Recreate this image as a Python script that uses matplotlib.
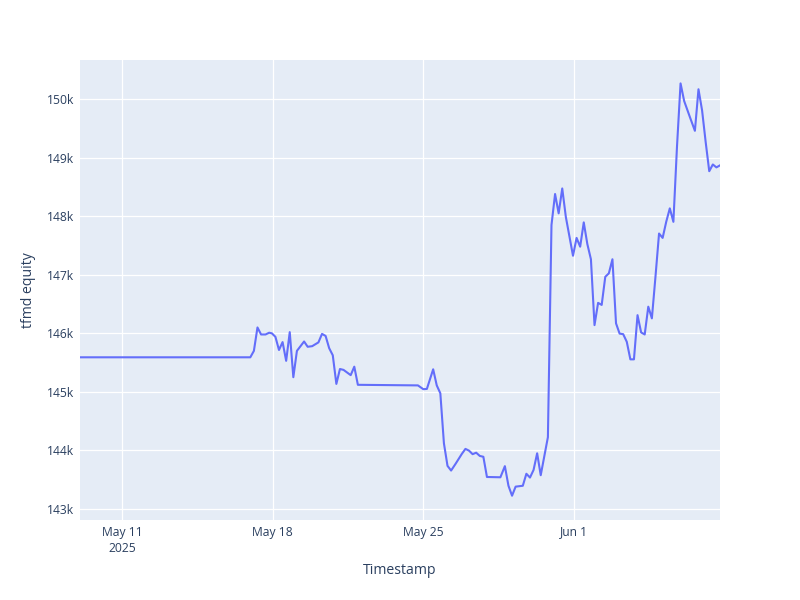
import pandas as pd
import matplotlib.pyplot as plt
from matplotlib.ticker import FuncFormatter

plt.rcParams['font.family'] = ['Open Sans', 'DejaVu Sans']

# equity curve (4-hourly-ish points)
timestamps = [
    "2025-05-09 01:00", "2025-05-16 23:00", "2025-05-17 03:00", "2025-05-17 07:00",
    "2025-05-17 11:00", "2025-05-17 16:00", "2025-05-17 20:00", "2025-05-17 23:00",
    "2025-05-18 03:00", "2025-05-18 07:00", "2025-05-18 11:00", "2025-05-18 15:00",
    "2025-05-18 19:00", "2025-05-18 23:00", "2025-05-19 03:00", "2025-05-19 11:00",
    "2025-05-19 15:00", "2025-05-19 20:00", "2025-05-20 03:00", "2025-05-20 07:00",
    "2025-05-20 11:00", "2025-05-20 15:00", "2025-05-20 19:00", "2025-05-20 23:00",
    "2025-05-21 03:00", "2025-05-21 07:00", "2025-05-21 15:00", "2025-05-21 19:00",
    "2025-05-21 23:00", "2025-05-24 18:00", "2025-05-25 00:00", "2025-05-25 04:00",
    "2025-05-25 11:00", "2025-05-25 15:00", "2025-05-25 19:00", "2025-05-25 23:00",
    "2025-05-26 03:00", "2025-05-26 07:00", "2025-05-26 12:00", "2025-05-26 19:00",
    "2025-05-26 23:00", "2025-05-27 03:00", "2025-05-27 07:00", "2025-05-27 11:00",
    "2025-05-27 15:00", "2025-05-27 19:00", "2025-05-27 23:00", "2025-05-28 14:00",
    "2025-05-28 19:00", "2025-05-28 23:00", "2025-05-29 03:00", "2025-05-29 07:00",
    "2025-05-29 15:00", "2025-05-29 19:00", "2025-05-29 23:00", "2025-05-30 03:00",
    "2025-05-30 07:00", "2025-05-30 11:00", "2025-05-30 19:00", "2025-05-30 23:00",
    "2025-05-31 03:00", "2025-05-31 07:00", "2025-05-31 11:00", "2025-05-31 15:00",
    "2025-05-31 23:00", "2025-06-01 03:00", "2025-06-01 07:00", "2025-06-01 11:00",
    "2025-06-01 15:00", "2025-06-01 19:00", "2025-06-01 23:00", "2025-06-02 03:00",
    "2025-06-02 07:00", "2025-06-02 11:00", "2025-06-02 15:00", "2025-06-02 19:00",
    "2025-06-02 23:00", "2025-06-03 03:00", "2025-06-03 07:00", "2025-06-03 11:00",
    "2025-06-03 15:00", "2025-06-03 19:00", "2025-06-03 23:00", "2025-06-04 03:00",
    "2025-06-04 07:00", "2025-06-04 11:00", "2025-06-04 15:00", "2025-06-04 19:00",
    "2025-06-04 23:00", "2025-06-05 03:00", "2025-06-05 07:00", "2025-06-05 11:00",
    "2025-06-05 15:00", "2025-06-05 19:00", "2025-06-05 23:00", "2025-06-06 03:00",
    "2025-06-06 10:00", "2025-06-06 15:00", "2025-06-06 19:00", "2025-06-06 23:00",
    "2025-06-07 03:00", "2025-06-07 07:00", "2025-06-07 11:00", "2025-06-07 15:00",
    "2025-06-07 19:00",
]
equity = [
    145590, 145590, 145700, 146100,
    145980, 145980, 146010, 146000,
    145940, 145715, 145850, 145530,
    146020, 145250, 145700, 145860,
    145770, 145780, 145845, 145990,
    145955, 145745, 145625, 145135,
    145390, 145375, 145285, 145430,
    145120, 145110, 145045, 145050,
    145385, 145110, 144975, 144120,
    143735, 143655, 143770, 143940,
    144025, 143995, 143935, 143960,
    143905, 143890, 143545, 143540,
    143730, 143395, 143225, 143380,
    143395, 143600, 143535, 143665,
    143950, 143575, 144225, 147850,
    148380, 148050, 148475, 147990,
    147325, 147630, 147480, 147895,
    147525, 147265, 146140, 146520,
    146485, 146965, 147025, 147265,
    146170, 145995, 145985, 145855,
    145555, 145555, 146310, 146015,
    145980, 146455, 146255, 146965,
    147705, 147630, 147905, 148135,
    147905, 149185, 150270, 149970,
    149670, 149460, 150170, 149810,
    149270, 148770, 148885, 148835,
    148870,
]

x_ticks = ["2025-05-11", "2025-05-18", "2025-05-25", "2025-06-01"]
x_ticklabels = ["May 11\n2025", "May 18", "May 25", "Jun 1"]
y_ticks = [143000, 144000, 145000, 146000, 147000, 148000, 149000, 150000]

df = pd.DataFrame({"Timestamp": pd.to_datetime(timestamps), "tfmd equity": equity})

fig = plt.figure(figsize=(8, 6), dpi=100)
ax = fig.add_axes([0.1, 1 - 520 / 600, 0.8, 460 / 600])
ax.set_facecolor("#E5ECF6")

ax.plot(df["Timestamp"], df["tfmd equity"], color="#636EFA", linewidth=1.5, zorder=3)

ax.set_xlim(df["Timestamp"].iloc[0], df["Timestamp"].iloc[-1])
ax.set_ylim(142810, 150670)

ax.set_xticks(pd.to_datetime(x_ticks))
ax.set_xticklabels(x_ticklabels, ha="center", linespacing=1.3)
ax.set_yticks(y_ticks)
ax.yaxis.set_major_formatter(FuncFormatter(lambda v, p: f"{int(round(v / 1000))}k"))

ax.grid(True, color="white", linewidth=0.9, zorder=0)
ax.set_axisbelow(True)
for s in ax.spines.values():
    s.set_visible(False)
ax.tick_params(length=0, labelsize=8.7, colors="#2a3f5f", pad=4)

ax.set_xlabel("Timestamp", fontsize=10.1, color="#2a3f5f")
ax.set_ylabel("tfmd equity", fontsize=10.1, color="#2a3f5f")
ax.xaxis.set_label_coords(0.5, -(571 - 520) / 460, transform=ax.transAxes)
ax.yaxis.set_label_coords(-(80 - 28) / 640, 0.5, transform=ax.transAxes)
ax.xaxis.label.set_va("center")
ax.yaxis.label.set_va("center")

fig.savefig("out.png", dpi=100)
